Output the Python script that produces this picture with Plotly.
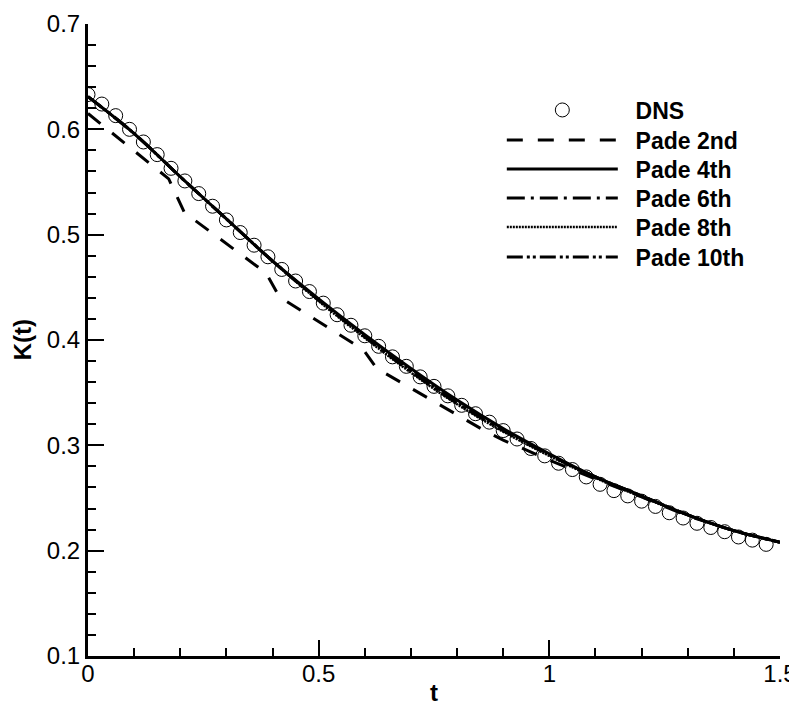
import plotly.graph_objects as go

# ---------------- data ----------------
t_dns = [0.00, 0.03, 0.06, 0.09, 0.12, 0.15, 0.18, 0.21, 0.24, 0.27,
         0.30, 0.33, 0.36, 0.39, 0.42, 0.45, 0.48, 0.51, 0.54, 0.57,
         0.60, 0.63, 0.66, 0.69, 0.72, 0.75, 0.78, 0.81, 0.84, 0.87,
         0.90, 0.93, 0.96, 0.99, 1.02, 1.05, 1.08, 1.11, 1.14, 1.17,
         1.20, 1.23, 1.26, 1.29, 1.32, 1.35, 1.38, 1.41, 1.44, 1.47]
k_dns = [0.633, 0.624, 0.613, 0.600, 0.588, 0.576, 0.563, 0.551, 0.539, 0.527,
         0.514, 0.502, 0.490, 0.479, 0.467, 0.456, 0.446, 0.435, 0.424, 0.414,
         0.404, 0.394, 0.384, 0.375, 0.365, 0.356, 0.347, 0.338, 0.330, 0.322,
         0.314, 0.306, 0.297, 0.290, 0.283, 0.277, 0.270, 0.263, 0.257, 0.252,
         0.247, 0.242, 0.236, 0.231, 0.226, 0.222, 0.218, 0.213, 0.210, 0.206]

t_pade2 = [0.0, 0.175, 0.209, 0.386, 0.415, 0.5975, 0.626, 0.70, 0.80, 0.864,
           0.90, 1.0, 1.1, 1.2, 1.3, 1.4, 1.5]
k_pade2 = [0.615, 0.553, 0.521, 0.4636, 0.441, 0.3905, 0.373, 0.3544, 0.3285, 0.3128,
           0.305, 0.286, 0.268, 0.251, 0.233, 0.219, 0.208]

t_line = [0.0, 0.1, 0.2, 0.3, 0.4, 0.5, 0.6, 0.7, 0.8, 0.9, 1.0, 1.1, 1.2, 1.3, 1.4, 1.5]
k_pade4 = [0.631, 0.596, 0.555, 0.515, 0.475, 0.439, 0.405, 0.373, 0.343, 0.316,
           0.292, 0.270, 0.252, 0.234, 0.219, 0.208]
k_pade6 = [0.631, 0.596, 0.555, 0.515, 0.475, 0.438, 0.403, 0.370, 0.340, 0.314,
           0.291, 0.270, 0.252, 0.234, 0.219, 0.208]
k_pade8 = [0.631, 0.596, 0.555, 0.515, 0.475, 0.437, 0.402, 0.369, 0.339, 0.313,
           0.290, 0.269, 0.251, 0.234, 0.219, 0.208]
k_pade10 = [0.631, 0.596, 0.555, 0.515, 0.475, 0.438, 0.404, 0.371, 0.341, 0.315,
            0.291, 0.270, 0.252, 0.234, 0.219, 0.208]

x_ticks = [0, 0.5, 1, 1.5]
x_ticklabels = ["0", "0.5", "1", "1.5"]
y_ticks = [0.1, 0.2, 0.3, 0.4, 0.5, 0.6, 0.7]
y_ticklabels = ["0.1", "0.2", "0.3", "0.4", "0.5", "0.6", "0.7"]

series_names = ["DNS", "Pade 2nd", "Pade 4th", "Pade 6th", "Pade 8th", "Pade 10th"]

FONT = "Liberation Sans, Arial, sans-serif"
NB = "\u00a0\u00a0"

legend_ids = ["legend", "legend2", "legend3", "legend4", "legend5", "legend6"]
legend_rows_y = [0.8639, 0.8165, 0.7706, 0.7247, 0.6788, 0.6313]

fig = go.Figure()
fig.add_trace(go.Scatter(x=t_dns, y=k_dns, mode="markers", name=NB + series_names[0],
                         legend=legend_ids[0],
                         marker=dict(symbol="circle-open", size=14,
                                     color="black", line=dict(width=1, color="black"))))
fig.add_trace(go.Scatter(x=t_pade2, y=k_pade2, mode="lines", name=NB + series_names[1],
                         legend=legend_ids[1],
                         line=dict(color="black", width=3, dash="16px,15px")))
fig.add_trace(go.Scatter(x=t_line, y=k_pade4, mode="lines", name=NB + series_names[2],
                         legend=legend_ids[2],
                         line=dict(color="black", width=3, shape="spline")))
fig.add_trace(go.Scatter(x=t_line, y=k_pade6, mode="lines", name=NB + series_names[3],
                         legend=legend_ids[3],
                         line=dict(color="black", width=3, shape="spline",
                                   dash="18px,6px,3px,6px")))
fig.add_trace(go.Scatter(x=t_line, y=k_pade8, mode="lines", name=NB + series_names[4],
                         legend=legend_ids[4],
                         line=dict(color="black", width=2.5, shape="spline",
                                   dash="2px,1px")))
fig.add_trace(go.Scatter(x=t_line, y=k_pade10, mode="lines", name=NB + series_names[5],
                         legend=legend_ids[5],
                         line=dict(color="black", width=3, shape="spline",
                                   dash="16px,4px,3px,3px,3px,4px")))

axis_common = dict(showline=True, linecolor="black", linewidth=3,
                   ticks="inside", tickcolor="black", tickwidth=2, ticklen=16,
                   showgrid=False, zeroline=False, mirror=False,
                   tickfont=dict(family=FONT, size=24, color="black"))

fig.update_xaxes(range=[0, 1.5], tickvals=x_ticks, ticktext=x_ticklabels,
                 ticklabelstandoff=-6,
                 minor=dict(ticks="inside", dtick=0.1, ticklen=8, tickwidth=1.5,
                            tickcolor="black", showgrid=False),
                 **axis_common)
fig.update_yaxes(range=[0.1, 0.7], tickvals=y_ticks, ticktext=y_ticklabels,
                 minor=dict(ticks="inside", dtick=0.02, ticklen=8, tickwidth=1.5,
                            tickcolor="black", showgrid=False),
                 **axis_common)

legend_style = dict(x=0.598, xanchor="left", yanchor="middle",
                    bgcolor="rgba(0,0,0,0)", itemwidth=111,
                    font=dict(family=FONT, size=23, color="black", weight="bold"))
legends = {lid: dict(y=ly, **legend_style) for lid, ly in zip(legend_ids, legend_rows_y)}

fig.update_layout(
    width=789, height=702,
    margin=dict(l=80, r=17, t=16, b=54, autoexpand=False),
    plot_bgcolor="white", paper_bgcolor="white",
    font=dict(family=FONT, color="black"),
    showlegend=True,
    annotations=[
        dict(text="<b>K(t)</b>", xref="paper", yref="paper", x=-0.095, y=0.5,
             xanchor="center", yanchor="middle", textangle=-90, showarrow=False,
             font=dict(family=FONT, size=24, color="black")),
        dict(text="<b>t</b>", xref="paper", yref="paper", x=0.5, y=-0.058,
             xanchor="center", yanchor="middle", showarrow=False,
             font=dict(family=FONT, size=24, color="black")),
    ],
    **legends,
)

fig.write_html("out.html")
